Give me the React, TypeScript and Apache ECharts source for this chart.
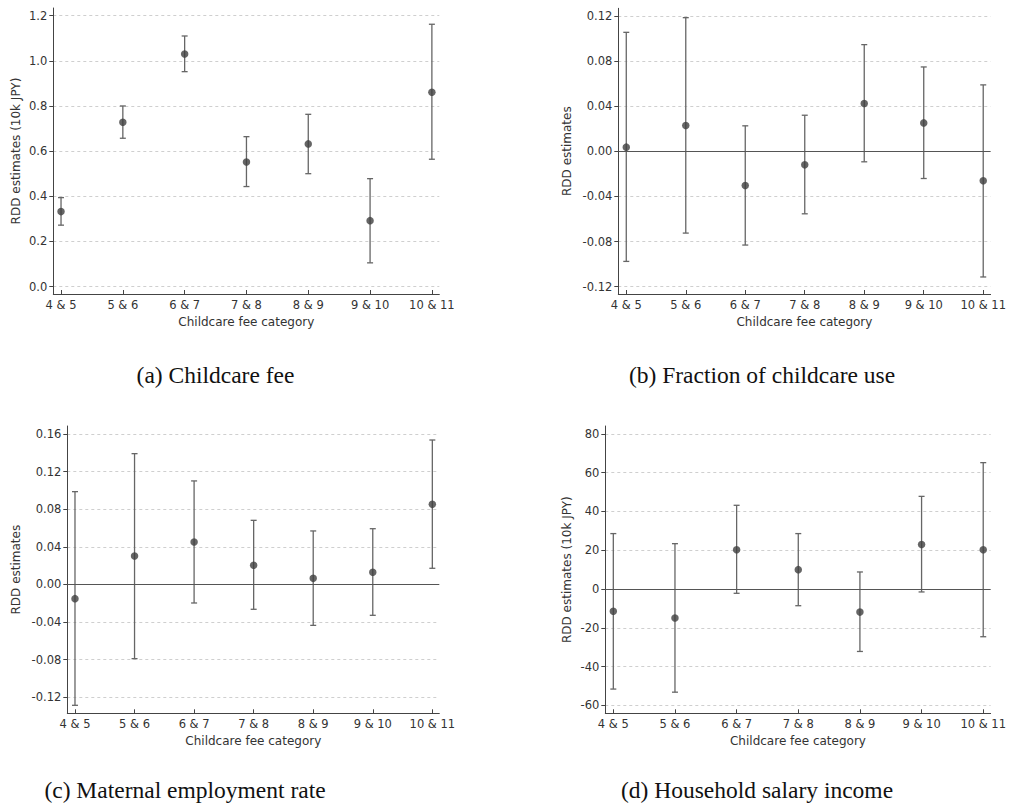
import React, { useEffect, useRef } from "react";
import * as echarts from "echarts";

// ---------- data ----------
const categories = ["4 & 5", "5 & 6", "6 & 7", "7 & 8", "8 & 9", "9 & 10", "10 & 11"];
const categoryIndex = [0, 1, 2, 3, 4, 5, 6];

// (a) Childcare fee
const feeEst = [0.332, 0.728, 1.03, 0.552, 0.632, 0.292, 0.861];
const feeLow = [0.272, 0.657, 0.952, 0.443, 0.5, 0.105, 0.564];
const feeHigh = [0.394, 0.8, 1.11, 0.664, 0.763, 0.478, 1.162];
const feeTicks = [0, 0.2, 0.4, 0.6, 0.8, 1.0, 1.2];

// (b) Fraction of childcare use
const useEst = [0.0037, 0.0229, -0.0303, -0.012, 0.0424, 0.0252, -0.0261];
const useLow = [-0.0976, -0.0725, -0.0831, -0.0554, -0.0093, -0.0241, -0.1114];
const useHigh = [0.1055, 0.1185, 0.0226, 0.032, 0.0946, 0.0748, 0.0589];
const useTicks = [-0.12, -0.08, -0.04, 0, 0.04, 0.08, 0.12];

// (c) Maternal employment rate
const empEst = [-0.0151, 0.0303, 0.0452, 0.0204, 0.0065, 0.0129, 0.0852];
const empLow = [-0.1285, -0.0789, -0.0197, -0.0264, -0.0435, -0.0328, 0.0172];
const empHigh = [0.0987, 0.1391, 0.1101, 0.0682, 0.0569, 0.0593, 0.1536];
const empTicks = [-0.12, -0.08, -0.04, 0, 0.04, 0.08, 0.12, 0.16];

// (d) Household salary income
const incEst = [-11.5, -14.9, 20.3, 10.0, -11.9, 23.0, 20.3];
const incLow = [-51.6, -53.2, -2.2, -8.6, -32.2, -1.5, -24.6];
const incHigh = [28.6, 23.4, 43.2, 28.6, 8.8, 47.8, 65.2];
const incTicks = [-60, -40, -20, 0, 20, 40, 60, 80];

const xTitle = "Childcare fee category";
const captions = [
  "(a) Childcare fee",
  "(b) Fraction of childcare use",
  "(c) Maternal employment rate",
  "(d) Household salary income",
];

// ---------- layout ----------
const panels = [
  {
    est: feeEst, low: feeLow, high: feeHigh, ticks: feeTicks, dec: 1,
    name: "RDD estimates (10k JPY)", nameGap: 31, zero: false,
    grid: { left: 53.3, top: 8, width: 386, height: 286 },
    ymin: -0.033, ymax: 1.234, xmin: -0.125, xmax: 6.12,
    cap: { x: 215.5, y: 375 },
  },
  {
    est: useEst, low: useLow, high: useHigh, ticks: useTicks, dec: 2,
    name: "RDD estimates", nameGap: 45, zero: true,
    grid: { left: 618.3, top: 8.3, width: 372.4, height: 285.7 },
    ymin: -0.1265, ymax: 0.1268, xmin: -0.134, xmax: 6.124,
    cap: { x: 762, y: 375 },
  },
  {
    est: empEst, low: empLow, high: empHigh, ticks: empTicks, dec: 2,
    name: "RDD estimates", nameGap: 45, zero: true,
    grid: { left: 67.3, top: 426, width: 372, height: 287.3 },
    ymin: -0.137, ymax: 0.1685, xmin: -0.129, xmax: 6.117,
    cap: { x: 185, y: 790 },
  },
  {
    est: incEst, low: incLow, high: incHigh, ticks: incTicks, dec: 0,
    name: "RDD estimates (10k JPY)", nameGap: 32, zero: true,
    grid: { left: 605.3, top: 426, width: 385.4, height: 287.3 },
    ymin: -64.1, ymax: 84.1, xmin: -0.13, xmax: 6.12,
    cap: { x: 757, y: 790 },
  },
];

const FONT = "DejaVu Sans";
const TEXT = "#333";
const AXIS = "#444";
const BAR = "#666";
const DOT = "#3f3f3f";

function buildOption() {
  const grid: any[] = [];
  const xAxis: any[] = [];
  const yAxis: any[] = [];
  const series: any[] = [];
  const graphic: any[] = [];

  panels.forEach((p, i) => {
    grid.push({ ...p.grid, containLabel: false });
    xAxis.push({
      type: "value",
      gridIndex: i,
      min: p.xmin,
      max: p.xmax,
      name: xTitle,
      nameLocation: "middle",
      nameGap: 22,
      nameTextStyle: { fontFamily: FONT, fontSize: 12, color: TEXT },
      axisLine: { show: true, onZero: false, lineStyle: { color: AXIS, width: 1 } },
      axisTick: { show: true, inside: true, length: 4, customValues: categoryIndex, lineStyle: { color: AXIS } },
      axisLabel: {
        show: true,
        customValues: categoryIndex,
        margin: 5,
        fontFamily: FONT,
        fontSize: 11.5,
        color: TEXT,
        formatter: (v: number) => categories[Math.round(v)] ?? "",
      },
      splitLine: { show: false },
    });
    yAxis.push({
      type: "value",
      gridIndex: i,
      min: p.ymin,
      max: p.ymax,
      name: p.name,
      nameLocation: "middle",
      nameGap: p.nameGap,
      nameRotate: 90,
      nameTextStyle: { fontFamily: FONT, fontSize: 12, color: TEXT },
      axisLine: { show: true, onZero: false, lineStyle: { color: AXIS, width: 1 } },
      axisTick: { show: true, inside: false, length: 4, customValues: p.ticks, lineStyle: { color: AXIS } },
      axisLabel: {
        show: true,
        customValues: p.ticks,
        margin: 6,
        fontFamily: FONT,
        fontSize: 11.5,
        color: TEXT,
        formatter: (v: number) => v.toFixed(p.dec),
      },
      splitLine: { show: true, lineStyle: { color: "#cfcfcf", type: [3, 3], width: 1 } },
    });

    const barData = categoryIndex.map((x, k) => [x, p.low[k], p.high[k]]);
    series.push({
      type: "custom",
      xAxisIndex: i,
      yAxisIndex: i,
      clip: false,
      z: 3,
      encode: { x: 0, y: [1, 2] },
      data: barData,
      renderItem: (_params: any, api: any) => {
        const x = api.value(0);
        const lo = api.coord([x, api.value(1)]);
        const hi = api.coord([x, api.value(2)]);
        const c = 3;
        const st = { stroke: BAR, lineWidth: 1.3 };
        return {
          type: "group",
          children: [
            { type: "line", shape: { x1: lo[0], y1: lo[1], x2: hi[0], y2: hi[1] }, style: st },
            { type: "line", shape: { x1: lo[0] - c, y1: lo[1], x2: lo[0] + c, y2: lo[1] }, style: st },
            { type: "line", shape: { x1: hi[0] - c, y1: hi[1], x2: hi[0] + c, y2: hi[1] }, style: st },
          ],
        };
      },
    });

    series.push({
      type: "scatter",
      xAxisIndex: i,
      yAxisIndex: i,
      symbol: "circle",
      symbolSize: 7.5,
      z: 5,
      itemStyle: { color: DOT },
      data: categoryIndex.map((x, k) => [x, p.est[k]]),
      markLine: p.zero
        ? {
            silent: true,
            symbol: ["none", "none"],
            label: { show: false },
            lineStyle: { color: "#555", type: "solid", width: 1.2 },
            data: [{ yAxis: 0 }],
            z: 4,
          }
        : undefined,
    });

    graphic.push({
      type: "text",
      x: p.cap.x,
      y: p.cap.y,
      style: {
        text: captions[i],
        fontFamily: "Liberation Serif",
        fontSize: 23.5,
        fill: "#111",
        align: "center",
        verticalAlign: "middle",
      },
    });
  });

  return {
    animation: false,
    backgroundColor: "#ffffff",
    grid,
    xAxis,
    yAxis,
    series,
    graphic,
  };
}

export default function App() {
  const ref = useRef<HTMLDivElement>(null);
  useEffect(() => {
    if (!ref.current) return;
    const chart = echarts.init(ref.current, undefined, { renderer: "svg" });
    chart.setOption(buildOption() as any);
    return () => chart.dispose();
  }, []);
  return (
    <div
      ref={ref}
      style={{ position: "absolute", left: 0, top: 0, width: 1009, height: 810, background: "#fff" }}
    />
  );
}
